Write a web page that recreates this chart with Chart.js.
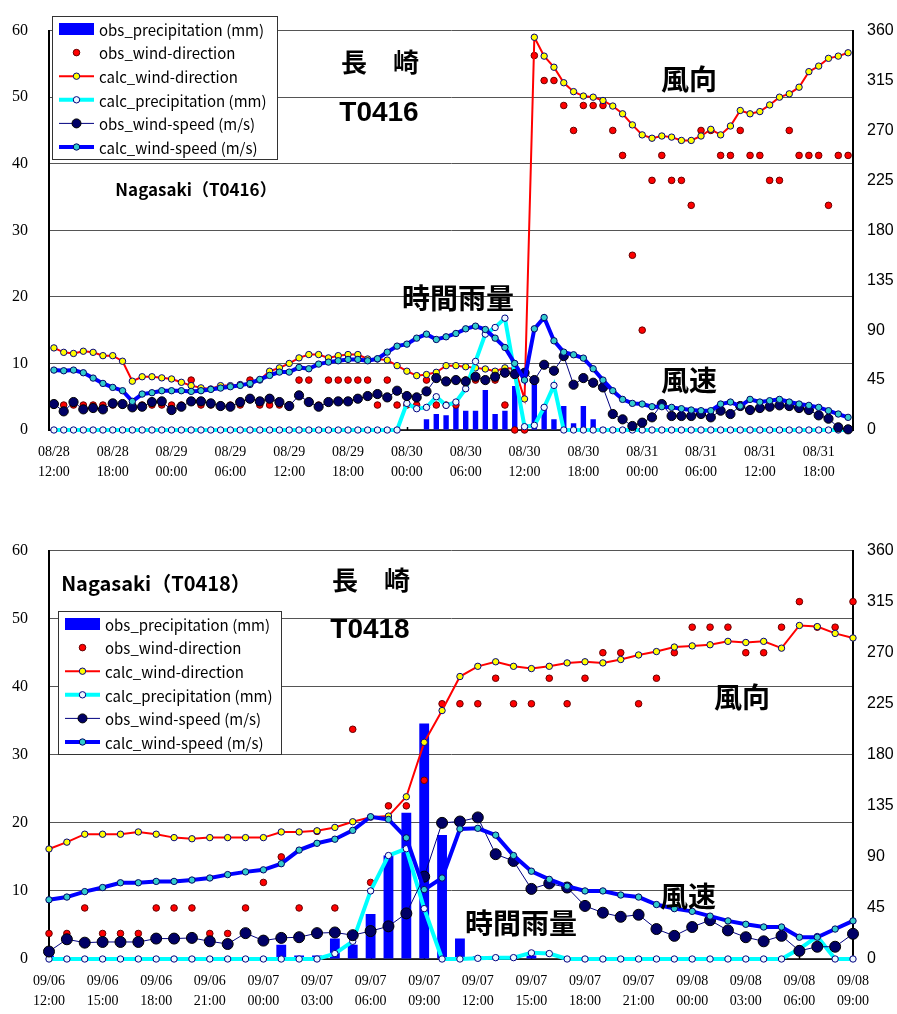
<!DOCTYPE html>
<html>
<head>
<meta charset="utf-8">
<script src="https://cdn.jsdelivr.net/npm/chart.js@4.4.1/dist/chart.umd.min.js"></script>
<style>
  body { margin: 0; background: #fff; }
  .holder { position: absolute; left: 0; }
</style>
</head>
<body>
<div class="holder" style="top:0px"><canvas id="t0416" width="897" height="490"></canvas></div>
<div class="holder" style="top:520px"><canvas id="t0418" width="897" height="494"></canvas></div>
<script>
// hourly categories, two-line labels ["MM/DD", "HH:00"]
function hourLabels(month, day, hour, count) {
  var out = [];
  for (var i = 0; i < count; i++) {
    var d = day + Math.floor((hour + i) / 24);
    var h = (hour + i) % 24;
    out.push([month + '/' + String(d).padStart(2, '0'), String(h).padStart(2, '0') + ':00']);
  }
  return out;
}

// ---- T0416 : 08/28 12:00 .. 08/31 21:00 ----
var t16Times = hourLabels('08', 28, 12, 82);

var t16ObsPrecip = [0,0,0,0,0,0,0,0,0,0,
  0,0,0,0,0,0,0,0,0,0,
  0,0,0,0,0,0,0,0,0,0,
  0,0,0,0,0,0,0,0,1.6,2.4,
  2.2,3.6,2.9,2.9,6.0,2.4,2.9,6.6,0,7.2,
  3.3,1.6,3.6,1.0,3.6,1.6,0.4,0,0,0,
  0,0,0,0,0,0,0,0,0,0,
  0,0,0,0,0,0,0,0,0,0,
  0,0];

var t16ObsDir = [22.5,22.5,22.5,22.5,22.5,22.5,22.5,22.5,22.5,22.5,
  22.5,22.5,22.5,22.5,45,22.5,22.5,22.5,22.5,22.5,
  45,22.5,22.5,22.5,22.5,45,45,22.5,45,45,
  45,45,45,22.5,45,22.5,22.5,22.5,45,22.5,
  22.5,22.5,45,45,45,45,22.5,0,0,337.5,
  315,315,292.5,270,292.5,292.5,292.5,270,247.5,157.5,
  90,225,247.5,225,225,202.5,270,270,247.5,247.5,
  270,247.5,247.5,225,225,270,247.5,247.5,247.5,202.5,
  247.5,247.5];

var t16CalcDir = [74,70,69,71,70,67,67,62,44,48,
  48,47,46,43,40,38,37,40,40,41,
  41,45,53,56,60,65,68,68,65,67,
  68,68,64,64,63,58,53,49,50,52,
  58,58,57,56,55,53,56,55,28,354,
  337,327,313,305,301,300,297,292,285,275,
  266,263,265,264,261,261,265,271,266,274,
  288,285,287,293,300,303,309,323,328,335,
  337,340];

var t16CalcPrecip = [0,0,0,0,0,0,0,0,0,0,
  0,0,0,0,0,0,0,0,0,0,
  0,0,0,0,0,0,0,0,0,0,
  0,0,0,0,0,0,4.0,3.2,3.4,5.0,
  3.7,4.2,6.2,10.3,14.4,15.4,16.8,8.5,0.5,0.7,
  3.4,6.7,0,0,0,0,0,0,0,0,
  0,0,0,0,0,0,0,0,0,0,
  0,0,0,0,0,0,0,0,0,0,
  0,0];

var t16ObsSpeed = [3.9,2.8,4.2,3.1,3.3,3.1,4.0,3.9,3.4,3.5,
  4.2,4.3,3.0,3.5,4.3,4.3,4.0,3.6,3.5,4.2,
  4.7,4.3,4.7,4.2,3.6,5.2,4.2,3.5,4.2,4.3,
  4.3,4.7,5.1,5.4,4.9,5.9,5.1,4.9,5.8,7.8,
  7.3,7.5,7.3,8.0,7.5,8.0,8.6,8.4,8.6,7.5,
  9.8,8.9,11.1,6.8,7.8,7.1,6.4,2.4,1.6,0.6,
  1.1,1.9,3.9,2.1,2.1,2.1,2.4,1.9,2.9,2.4,
  3.6,3.0,3.3,3.5,3.7,3.6,3.3,3.0,2.2,1.7,
  0.4,0.1];

var t16CalcSpeed = [9.0,8.9,9.0,8.6,7.8,7.0,6.4,5.9,4.3,5.4,
  5.6,5.9,5.9,5.9,5.8,5.9,6.1,6.3,6.5,6.7,
  7.0,7.6,8.2,8.7,8.7,9.4,9.2,9.9,10.2,10.4,
  10.6,10.6,10.4,10.7,11.7,12.6,12.9,13.8,14.4,13.6,
  14.0,14.5,15.2,15.6,15.1,13.8,12.4,10.0,7.5,15.2,
  16.9,13.4,11.7,11.3,10.8,9.2,7.5,5.9,4.6,4.0,
  3.9,3.5,3.5,3.4,3.2,3.0,2.9,2.9,3.9,4.2,
  3.6,4.6,4.2,4.4,4.6,4.2,3.9,3.7,3.4,2.9,
  2.4,1.9];

// ---- T0418 : 09/06 12:00 .. 09/08 09:00 ----
var t18Times = hourLabels('09', 6, 12, 46);

var t18ObsPrecip = [0.5,0,0,0,0,0,0,0,0,0,
  0,0,0,2.1,0.5,0.5,3.0,2.1,6.6,15.2,
  21.5,34.6,18.2,3.0,0.4,0,0,0.5,0,0,
  0,0,0,0,0,0,0,0,0,0,
  0,0,0,0,0,0];

var t18ObsDir = [22.5,22.5,45,22.5,22.5,22.5,45,45,45,22.5,
  22.5,45,67.5,90,45,112.5,45,202.5,67.5,135,
  135,157.5,225,225,225,247.5,225,225,247.5,225,
  247.5,270,270,225,247.5,270,292.5,292.5,292.5,270,
  270,292.5,315,292.5,292.5,315];

var t18CalcDir = [97,103,110,110,110,112,110,107,106,107,
  107,107,107,112,112,113,116,121,125,126,
  143,191,219,249,258,262,258,256,258,261,
  262,261,264,268,271,275,276,277,280,279,
  280,274,294,293,287,283];

var t18CalcPrecip = [0,0,0,0,0,0,0,0,0,0,
  0,0,0,0,0,0,0.8,2.6,10.0,15.2,
  16.2,7.4,0,0,0.1,0.2,0.2,0.9,0.8,0,
  0,0,0,0,0,0,0,0,0,0,
  0,0,1.5,3.3,0,0];

var t18ObsSpeed = [1.1,2.9,2.4,2.5,2.5,2.5,3.0,3.0,3.1,2.6,
  2.2,3.8,2.7,3.1,3.2,3.8,3.9,3.5,4.1,4.8,
  6.7,12.1,20.0,20.2,20.8,15.4,14.4,10.3,11.1,10.5,
  7.8,6.8,6.2,6.5,4.4,3.4,4.7,5.7,4.2,3.2,
  2.6,3.4,1.2,1.8,1.8,3.7];

var t18CalcSpeed = [8.7,9.1,9.9,10.5,11.2,11.2,11.4,11.4,11.6,11.9,
  12.4,12.8,13.1,14.0,16.0,17.0,17.6,18.9,20.9,20.5,
  17.8,10.2,11.9,19.1,19.2,18.2,15.2,12.9,11.7,10.7,
  10.0,10.0,9.4,9.1,8.0,7.4,7.0,6.3,5.6,5.1,
  4.7,4.7,3.2,3.2,4.4,5.6];

var JP = '"Noto Sans CJK JP", "Noto Sans", sans-serif';

// black category axis with small inner ticks, under the data
var baseAxis = {
  id: 'baseAxis',
  beforeDatasetsDraw: function(chart) {
    var ctx = chart.ctx, a = chart.chartArea, x = chart.scales.x;
    ctx.save();
    ctx.strokeStyle = '#000';
    ctx.lineWidth = 1.5;
    ctx.beginPath();
    ctx.moveTo(a.left, a.bottom);
    ctx.lineTo(a.right, a.bottom);
    for (var i = 0; i < x.ticks.length; i++) {
      var px = Math.round(x.getPixelForTick(i)) + 0.5;
      ctx.moveTo(px, a.bottom);
      ctx.lineTo(px, a.bottom - 3);
    }
    ctx.stroke();
    ctx.restore();
  }
};

var legendBox = {
  id: 'legendBox',
  afterDatasetsDraw: function(chart, args, o) {
    var ctx = chart.ctx;
    ctx.save();
    ctx.fillStyle = '#fff';
    ctx.fillRect(o.x, o.y, o.w, o.h);
    ctx.strokeStyle = '#333';
    ctx.lineWidth = 1;
    ctx.strokeRect(o.x + 0.5, o.y + 0.5, o.w, o.h);
    chart.data.datasets.forEach(function(ds, i) {
      var cy = o.y + o.rowTop + i * o.rowGap;
      var x0 = o.x + 7, x1 = x0 + 35, cx = (x0 + x1) / 2;
      if (ds.type === 'bar') {
        ctx.fillStyle = ds.backgroundColor;
        ctx.fillRect(x0, cy - 6, x1 - x0, 12);
      } else {
        if (ds.showLine !== false) {
          ctx.strokeStyle = ds.borderColor;
          ctx.lineWidth = ds.borderWidth;
          ctx.beginPath();
          ctx.moveTo(x0, cy);
          ctx.lineTo(x1, cy);
          ctx.stroke();
        }
        ctx.beginPath();
        ctx.arc(cx, cy, Math.min(ds.pointRadius, 4.5), 0, Math.PI * 2);
        ctx.fillStyle = ds.pointBackgroundColor;
        ctx.fill();
        ctx.lineWidth = ds.pointBorderWidth;
        ctx.strokeStyle = ds.pointBorderColor;
        ctx.stroke();
      }
      ctx.fillStyle = '#000';
      ctx.font = '15px ' + JP;
      ctx.textAlign = 'left';
      ctx.textBaseline = 'middle';
      ctx.fillText(ds.label, o.x + 47, cy + 1);
    });
    ctx.restore();
  }
};

var notes = {
  id: 'notes',
  afterDatasetsDraw: function(chart, args, o) {
    var ctx = chart.ctx;
    ctx.save();
    ctx.fillStyle = '#000';
    ctx.textAlign = 'center';
    ctx.textBaseline = 'middle';
    o.items.forEach(function(n) {
      ctx.font = n.font;
      ctx.fillText(n.text, n.x, n.y);
    });
    ctx.restore();
  }
};

function makeChart(id, c) {
  var datasets = [
    { type: 'bar', label: 'obs_precipitation (mm)', data: c.obsPrecip, yAxisID: 'y',
      backgroundColor: '#0000ff', barPercentage: 0.55, categoryPercentage: 1, order: 6 },
    { type: 'line', label: 'obs_wind-direction', data: c.obsDir, yAxisID: 'y1', showLine: false,
      pointRadius: 3.3, pointBackgroundColor: '#ff0000', pointBorderColor: '#660000', pointBorderWidth: 1,
      order: 5, clip: false },
    { type: 'line', label: 'calc_wind-direction', data: c.calcDir, yAxisID: 'y1',
      borderColor: '#ff0000', borderWidth: 2, pointRadius: 3.2, pointBackgroundColor: '#ffff00',
      pointBorderColor: '#000080', pointBorderWidth: 1, order: 4, clip: false },
    { type: 'line', label: 'calc_precipitation (mm)', data: c.calcPrecip, yAxisID: 'y',
      borderColor: '#00ffff', borderWidth: 4, pointRadius: 3.2, pointBackgroundColor: '#eef8ff',
      pointBorderColor: '#000080', pointBorderWidth: 1, order: 3, clip: false },
    { type: 'line', label: 'obs_wind-speed (m/s)', data: c.obsSpeed, yAxisID: 'y',
      borderColor: '#000080', borderWidth: 1, pointRadius: c.obsRadius, pointBackgroundColor: '#000066',
      pointBorderColor: '#000000', pointBorderWidth: 1, order: 2, clip: false },
    { type: 'line', label: 'calc_wind-speed (m/s)', data: c.calcSpeed, yAxisID: 'y',
      borderColor: '#0000ff', borderWidth: 4, pointRadius: 3.2, pointBackgroundColor: '#33cccc',
      pointBorderColor: '#000066', pointBorderWidth: 1, order: 1, clip: false }
  ];

  return new Chart(document.getElementById(id), {
    type: 'bar',
    data: { labels: c.times, datasets: datasets },
    plugins: [baseAxis, legendBox, notes],
    options: {
      responsive: false,
      animation: false,
      events: [],
      layout: { padding: { top: c.padTop, left: 0, right: 0, bottom: 0 } },
      scales: {
        x: {
          type: 'category',
          offset: c.offset,
          grid: { display: false, drawTicks: false },
          border: { display: false },
          ticks: {
            autoSkip: false, maxRotation: 0, minRotation: 0, padding: 12, color: '#000',
            font: { family: '"Liberation Serif", serif', size: 14, lineHeight: 1.45 },
            callback: function(v, i) { return i % c.labelEvery === 0 ? this.getLabelForValue(v) : null; }
          },
          afterFit: function(s) { s.height = c.xHeight; }
        },
        y: {
          position: 'left', min: 0, max: 60,
          ticks: { stepSize: 10, padding: 21, color: '#000',
            font: { family: '"Liberation Serif", serif', size: 16 } },
          grid: { color: '#555', lineWidth: 1, drawTicks: false },
          border: { color: '#000', width: 2 },
          afterFit: function(s) { s.width = 49; }
        },
        y1: {
          position: 'right', min: 0, max: 360,
          ticks: { stepSize: 45, padding: 14, color: '#000',
            font: { family: '"Liberation Sans", sans-serif', size: 16 } },
          grid: { drawOnChartArea: false, drawTicks: false },
          border: { color: '#000', width: 2 },
          afterFit: function(s) { s.width = 44; }
        }
      },
      plugins: {
        legend: { display: false },
        tooltip: { enabled: false },
        legendBox: c.legend,
        notes: { items: c.notes }
      }
    }
  });
}

var big = 'bold 28px ' + JP;

makeChart('t0416', {
  times: t16Times, obsPrecip: t16ObsPrecip, obsDir: t16ObsDir, calcDir: t16CalcDir,
  calcPrecip: t16CalcPrecip, obsSpeed: t16ObsSpeed, calcSpeed: t16CalcSpeed,
  offset: true, labelEvery: 6, padTop: 13, xHeight: 60, obsRadius: 4.6,
  legend: { x: 52, y: 16, w: 225, h: 143, rowTop: 13, rowGap: 23.6 },
  notes: [
    { text: '長　崎', x: 380, y: 62, font: 'bold 26px ' + JP },
    { text: 'T0416', x: 379, y: 113, font: 'bold 28px "Liberation Sans", sans-serif' },
    { text: 'Nagasaki（T0416）', x: 196, y: 190, font: 'bold 17px ' + JP },
    { text: '時間雨量', x: 458, y: 298, font: big },
    { text: '風向', x: 689, y: 79, font: big },
    { text: '風速', x: 689, y: 380, font: big }
  ]
});

makeChart('t0418', {
  times: t18Times, obsPrecip: t18ObsPrecip, obsDir: t18ObsDir, calcDir: t18CalcDir,
  calcPrecip: t18CalcPrecip, obsSpeed: t18ObsSpeed, calcSpeed: t18CalcSpeed,
  offset: false, labelEvery: 3, padTop: 22, xHeight: 55, obsRadius: 5.5,
  legend: { x: 58, y: 91, w: 223, h: 143, rowTop: 13, rowGap: 23.6 },
  notes: [
    { text: 'Nagasaki（T0418）', x: 156, y: 63, font: 'bold 20px ' + JP },
    { text: '長　崎', x: 371, y: 60, font: 'bold 26px ' + JP },
    { text: 'T0418', x: 370, y: 110, font: 'bold 28px "Liberation Sans", sans-serif' },
    { text: '風向', x: 742, y: 177, font: big },
    { text: '風速', x: 688, y: 376, font: big },
    { text: '時間雨量', x: 521, y: 403, font: big }
  ]
});
</script>
</body>
</html>
